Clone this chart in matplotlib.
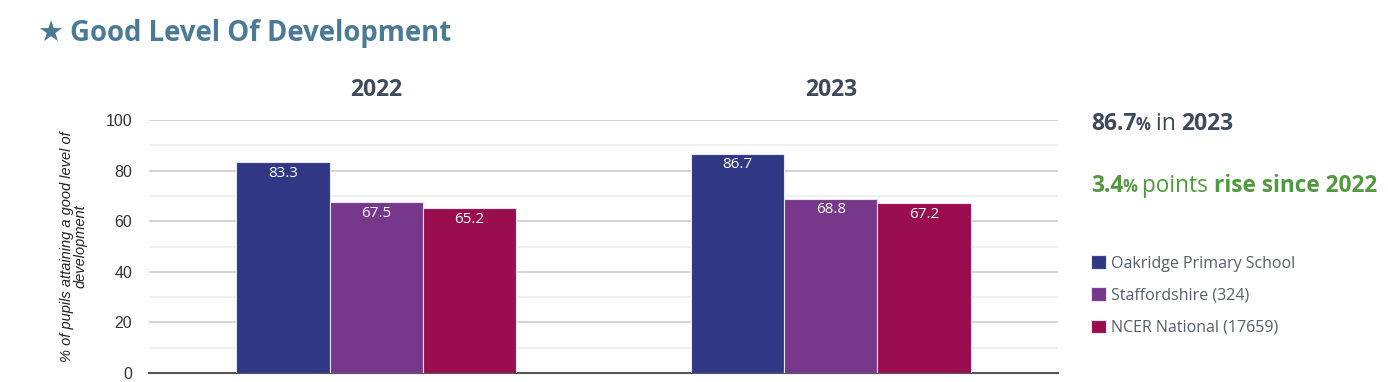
import matplotlib
matplotlib.use('Agg')
import matplotlib.pyplot as plt
from matplotlib import font_manager as fm
import numpy as np

# data
years = ['2022', '2023']
groups = ['Oakridge Primary School', 'Staffordshire (324)', 'NCER National (17659)']
oakridge = [83.3, 86.7]
staffs = [67.5, 68.8]
national = [65.2, 67.2]
colores = ['#303885', '#77378b', '#9a0d4f']

plt.rcParams['font.family'] = ['Open Sans', 'DejaVu Sans']

# fichero exacto de Open Sans Bold (evita que coja la condensada)
ruta_bold = None
for f in fm.fontManager.ttflist:
    if f.fname.endswith('OpenSans-Bold.ttf'):
        ruta_bold = f.fname


def fp(size, bold=False):
    if bold and ruta_bold:
        return fm.FontProperties(fname=ruta_bold, size=size)
    return fm.FontProperties(family='Open Sans', size=size,
                             weight='bold' if bold else 'normal')


W, H = 1388, 382
fig = plt.figure(figsize=(W / 100, H / 100), dpi=100)
ax = fig.add_axes([149 / W, 9 / H, 909 / W, 253 / H])

x = np.arange(len(years))
ancho = 0.205
series = [oakridge, staffs, national]
barras = []
for i, vals in enumerate(series):
    b = ax.bar(x + (i - 1) * ancho, vals, ancho, color=colores[i],
               edgecolor='#e6e6f0', linewidth=0.8, label=groups[i], zorder=3)
    barras.append(b)
    for xi, v in zip(x + (i - 1) * ancho, vals):
        ax.text(xi, v - 1.4, f'{v:.1f}', ha='center', va='top', color='white',
                fontsize=11, zorder=4)

ax.set_xlim(-0.5, 1.5)
ax.set_ylim(0, 100)
ax.set_yticks(range(0, 101, 20))
ax.set_yticks(range(10, 100, 20), minor=True)
ax.tick_params(axis='y', which='both', length=0, pad=12, labelsize=11.5,
               labelcolor='#333333')
for lab in ax.get_yticklabels():
    lab.set_family('Liberation Sans')
ax.set_xticks([])
ax.grid(axis='y', which='major', color='#d4d4d4', linewidth=1.4, zorder=0)
ax.grid(axis='y', which='minor', color='#eeeeee', linewidth=1.2, zorder=0)
for s in ['top', 'right', 'left']:
    ax.spines[s].set_visible(False)
ax.spines['bottom'].set_color('#555555')
ax.spines['bottom'].set_linewidth(1.5)

ax.set_ylabel('% of pupils attaining a good level of\ndevelopment', fontsize=10.5,
              style='italic', family='Liberation Sans', color='#222222',
              labelpad=13, linespacing=1.0)

# year headers
for xi, y in zip(x, years):
    ax.annotate(y, (xi, 100), xytext=(0, 21.5), textcoords='offset points',
                ha='center', va='center', fontproperties=fp(16.5, True),
                color='#3e4a5a', annotation_clip=False)

# title: star in DejaVu, text in Open Sans Bold
fig.text(37 / W, 1 - 34 / H, '★', fontsize=21, family='DejaVu Sans',
         color='#4a7a96', va='center', ha='left')
fig.text(70 / W, 1 - 33 / H, 'Good Level Of Development', fontproperties=fp(19.8, True),
         color='#4a7a96', va='center', ha='left')

# right side summary texts, built from pieces
renderer = fig.canvas.get_renderer()


def piezas(x0, yc, partes, color):
    xp = x0
    for txt, size, bold in partes:
        t = fig.text(xp / W, yc, txt, fontproperties=fp(size, bold),
                     color=color, va='baseline', ha='left')
        bb = t.get_window_extent(renderer=renderer)
        xp += bb.width


piezas(1091, 1 - 130 / H,
       [(f'{oakridge[-1]:.1f}', 16.5, True), ('% ', 12, True),
        ('in ', 16.5, False), (years[-1], 16.5, True)], '#3e4a5a')
subida = oakridge[-1] - oakridge[0]
piezas(1091, 1 - 192 / H,
       [(f'{subida:.1f}', 16.3, True), ('% ', 12, True),
        ('points ', 16.3, False), ('rise since ' + years[0], 16.3, True)],
       '#4f9a3f')

fig.legend(handles=barras, loc='upper left', bbox_to_anchor=(1077 / W, 1 - 241 / H),
           frameon=False, fontsize=11.5, handlelength=0.9, handleheight=0.9,
           handletextpad=0.3, labelspacing=1.0, labelcolor='#555e6b')

fig.savefig('out.png', dpi=100)
